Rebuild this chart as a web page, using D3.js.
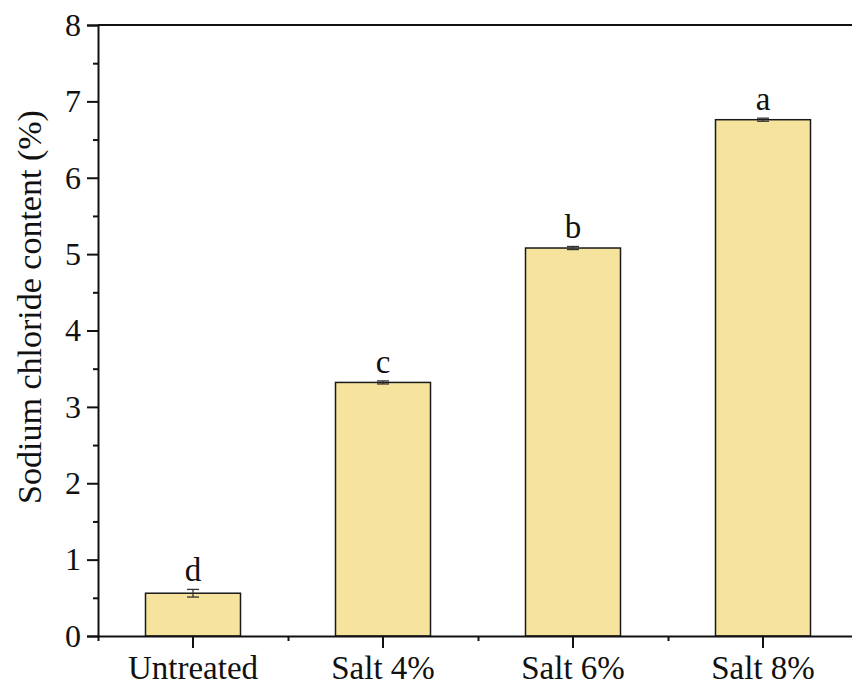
<!DOCTYPE html>
<html>
<head>
<meta charset="utf-8">
<script src="https://cdn.jsdelivr.net/npm/d3@7/dist/d3.min.js"></script>
<style>
  html, body { margin: 0; padding: 0; background: #fff; }
  svg { display: block; }
  text { font-family: "Liberation Serif", "Times New Roman", serif; fill: #111; }
</style>
</head>
<body>
<svg id="chart" width="852" height="686"></svg>
<script>
// Sodium chloride content by treatment
const categories = ["Untreated", "Salt 4%", "Salt 6%", "Salt 8%"];
const values = [0.56, 3.32, 5.08, 6.76];
const errors = [0.05, 0.02, 0.02, 0.02];
const letters = ["d", "c", "b", "a"];
const yTicks = [0, 1, 2, 3, 4, 5, 6, 7, 8];
const yMinorTicks = [0.5, 1.5, 2.5, 3.5, 4.5, 5.5, 6.5, 7.5];

const svg = d3.select("#chart");
const plotLeft = 98, plotRight = 858, plotTop = 25, plotBottom = 636;

const x = d3.scaleBand().domain(categories).range([plotLeft, plotRight])
  .paddingInner(0.5).paddingOuter(0.25);
const y = d3.scaleLinear().domain([0, 8]).range([plotBottom, plotTop]);
// boundaries between categories, for the short ticks on the x axis
const xEdges = d3.scaleLinear().domain([0, categories.length]).range([plotLeft, plotRight]);

// frame: top and right edges
svg.append("line").attr("x1", plotLeft).attr("x2", plotRight).attr("y1", plotTop).attr("y2", plotTop)
  .attr("stroke", "#111").attr("stroke-width", 2);
svg.append("line").attr("x1", plotRight).attr("x2", plotRight).attr("y1", plotTop).attr("y2", plotBottom)
  .attr("stroke", "#111").attr("stroke-width", 2);

// bars
svg.append("g").selectAll("rect").data(categories).join("rect")
  .attr("x", d => x(d))
  .attr("y", (d, i) => y(values[i]))
  .attr("width", x.bandwidth())
  .attr("height", (d, i) => y(0) - y(values[i]))
  .attr("fill", "#F6E39D")
  .attr("stroke", "#1a1a1a")
  .attr("stroke-width", 1.5);

// error bars
const eb = svg.append("g").attr("stroke", "#333").attr("stroke-width", 1.3);
categories.forEach((c, i) => {
  const cx = x(c) + x.bandwidth() / 2;
  const y1 = y(values[i] + errors[i]), y2 = y(values[i] - errors[i]);
  eb.append("line").attr("x1", cx).attr("x2", cx).attr("y1", y1).attr("y2", y2);
  eb.append("line").attr("x1", cx - 6).attr("x2", cx + 6).attr("y1", y1).attr("y2", y1);
  eb.append("line").attr("x1", cx - 6).attr("x2", cx + 6).attr("y1", y2).attr("y2", y2);
});

// significance letters
svg.append("g").selectAll("text").data(categories).join("text")
  .attr("x", d => x(d) + x.bandwidth() / 2)
  .attr("y", (d, i) => y(values[i] + errors[i]) - 8)
  .attr("text-anchor", "middle")
  .attr("font-size", 33)
  .text((d, i) => letters[i]);

// y axis
const yAxis = svg.append("g").attr("transform", `translate(${plotLeft},0)`)
  .call(d3.axisLeft(y).tickValues(yTicks).tickFormat(d3.format("d")).tickSize(11).tickPadding(6));
svg.append("g").attr("transform", `translate(${plotLeft},0)`)
  .call(d3.axisLeft(y).tickValues(yMinorTicks).tickFormat("").tickSize(5))
  .call(g => g.select(".domain").remove());

// x axis
const xAxis = svg.append("g").attr("transform", `translate(0,${plotBottom})`)
  .call(d3.axisBottom(x).tickSize(12).tickPadding(8).tickSizeOuter(0));
svg.append("g").attr("transform", `translate(0,${plotBottom})`)
  .call(d3.axisBottom(xEdges).tickValues(d3.range(0, categories.length + 1)).tickFormat("").tickSize(5))
  .call(g => g.select(".domain").remove());

svg.selectAll(".tick line").attr("stroke", "#111").attr("stroke-width", 2);
svg.selectAll(".domain").attr("stroke", "#111").attr("stroke-width", 2);
yAxis.selectAll(".tick text").attr("font-size", 32).attr("font-family", "Liberation Serif").attr("fill", "#111");
xAxis.selectAll(".tick text").attr("font-size", 33).attr("font-family", "Liberation Serif").attr("fill", "#111");

// y axis title
svg.append("text")
  .attr("transform", "translate(41,307) rotate(-90)")
  .attr("text-anchor", "middle")
  .attr("font-size", 34)
  .text("Sodium chloride content (%)");
</script>
</body>
</html>
